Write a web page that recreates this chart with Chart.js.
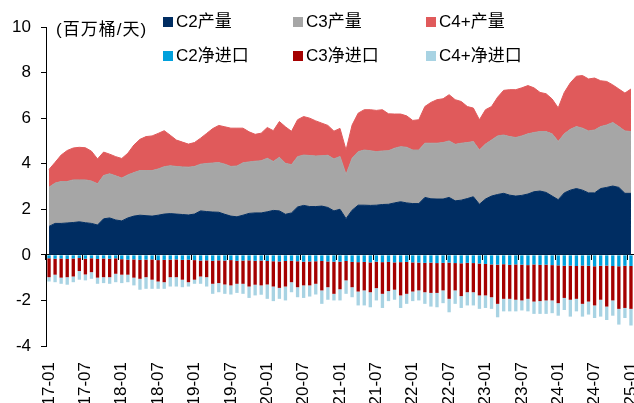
<!DOCTYPE html>
<html>
<head>
<meta charset="utf-8">
<script src="https://cdn.jsdelivr.net/npm/chart.js@4/dist/chart.umd.min.js"></script>
<style>
  html, body { margin: 0; padding: 0; background: #fff; }
  #wrap { position: relative; width: 634px; height: 403px; overflow: hidden; }
  #chart { position: absolute; left: 0; top: 0; }
  .unit, .leg { position: absolute; font-size: 17px; color: #000; white-space: nowrap;
    font-family: "Liberation Sans", Arial, "Noto Sans CJK SC", sans-serif; line-height: 20px; }
  .leg i { position: absolute; left: 0; top: 5px; width: 10px; height: 10px; }
  .leg span { position: absolute; left: 13px; top: 0; }
</style>
</head>
<body>
<div id="wrap">
  <canvas id="chart" width="634" height="403"></canvas>
  <div class="unit" style="left:56px; top:20px; letter-spacing:1px;">(百万桶/天)</div>
  <div id="legend"></div>
</div>
<script>
// Monthly categories 2017-01 .. 2025-01
const months = [];
for (let y = 17; y <= 25; y++) {
  for (let m = 1; m <= 12; m++) {
    if (y === 25 && m > 1) break;
    months.push(y + '-' + String(m).padStart(2, '0'));
  }
}
const tickLabels = months.filter((_, i) => i % 6 === 0);

// Production, million barrels per day
const c2Prod = [1.25,1.38,1.38,1.40,1.42,1.45,1.41,1.38,1.31,1.58,1.62,1.53,
  1.49,1.62,1.70,1.74,1.72,1.70,1.74,1.79,1.81,1.79,1.77,1.75,
  1.79,1.93,1.90,1.88,1.87,1.78,1.70,1.67,1.74,1.82,1.84,1.84,
  1.89,1.95,1.93,1.78,1.84,2.10,2.17,2.12,2.12,2.14,2.08,1.93,
  2.00,1.59,1.96,2.18,2.18,2.17,2.18,2.21,2.22,2.28,2.33,2.28,
  2.25,2.25,2.52,2.46,2.45,2.45,2.52,2.37,2.40,2.47,2.55,2.22,
  2.45,2.58,2.65,2.70,2.62,2.58,2.61,2.67,2.77,2.80,2.74,2.58,
  2.42,2.72,2.84,2.91,2.84,2.72,2.72,2.91,2.96,3.02,2.96,2.70,
  2.70];
const c3Prod = [1.72,1.77,1.84,1.82,1.87,1.84,1.88,1.86,1.81,1.90,1.94,1.94,
  1.88,1.89,1.91,1.96,1.98,2.00,2.03,2.08,2.10,2.09,2.09,2.10,
  2.09,2.05,2.11,2.15,2.18,2.20,2.18,2.23,2.30,2.26,2.27,2.29,
  2.35,2.15,2.35,2.24,2.12,2.21,2.21,2.24,2.22,2.21,2.29,2.28,
  2.32,1.94,2.28,2.35,2.42,2.40,2.35,2.35,2.35,2.40,2.42,2.44,
  2.35,2.35,2.38,2.44,2.45,2.48,2.48,2.48,2.50,2.46,2.42,2.38,
  2.41,2.46,2.57,2.56,2.57,2.57,2.61,2.64,2.60,2.61,2.67,2.73,
  2.56,2.59,2.67,2.72,2.72,2.72,2.76,2.72,2.74,2.79,2.67,2.74,
  2.71];
const c4Prod = [0.78,0.91,1.16,1.36,1.40,1.43,1.41,1.31,1.09,1.03,0.86,0.84,
  0.86,0.95,1.21,1.37,1.49,1.52,1.56,1.58,1.34,1.16,1.09,1.01,
  1.05,1.14,1.32,1.51,1.63,1.64,1.68,1.66,1.52,1.32,1.18,1.21,
  1.35,1.35,1.57,1.60,1.46,1.62,1.69,1.64,1.54,1.43,1.31,1.22,
  1.23,1.07,1.46,1.69,1.77,1.80,1.81,1.81,1.62,1.50,1.43,1.38,
  1.30,1.33,1.61,1.79,1.91,1.92,2.03,1.96,1.83,1.58,1.47,1.33,
  1.51,1.47,1.70,1.96,2.06,2.10,2.11,2.12,1.96,1.72,1.66,1.53,
  1.47,1.82,2.04,2.21,2.31,2.28,2.28,2.01,1.91,1.65,1.65,1.66,
  1.87];

// Net imports (negative = net exports), million barrels per day
const c2Imp = [-0.15,-0.17,-0.16,-0.18,-0.16,-0.14,-0.17,-0.15,-0.18,-0.16,-0.17,-0.15,
  -0.19,-0.21,-0.20,-0.22,-0.21,-0.20,-0.23,-0.22,-0.21,-0.20,-0.22,-0.21,
  -0.23,-0.25,-0.24,-0.26,-0.24,-0.25,-0.23,-0.26,-0.25,-0.24,-0.26,-0.25,
  -0.27,-0.28,-0.29,-0.27,-0.26,-0.28,-0.30,-0.29,-0.28,-0.27,-0.29,-0.30,
  -0.30,-0.27,-0.31,-0.32,-0.31,-0.33,-0.30,-0.32,-0.31,-0.33,-0.32,-0.31,
  -0.33,-0.34,-0.35,-0.34,-0.36,-0.35,-0.34,-0.36,-0.37,-0.35,-0.36,-0.38,
  -0.40,-0.42,-0.43,-0.41,-0.44,-0.42,-0.43,-0.45,-0.42,-0.44,-0.43,-0.45,
  -0.46,-0.48,-0.47,-0.49,-0.47,-0.48,-0.50,-0.48,-0.47,-0.49,-0.50,-0.48,
  -0.49];
const c3Imp = [-0.83,-0.70,-0.84,-0.80,-0.79,-0.57,-0.69,-0.61,-0.82,-0.82,-0.81,-0.68,
  -0.68,-0.66,-0.80,-0.83,-0.77,-0.89,-0.94,-0.98,-0.77,-0.78,-0.87,-0.99,
  -0.86,-0.70,-0.74,-1.01,-1.00,-1.05,-1.11,-1.01,-1.02,-1.15,-1.05,-1.09,
  -1.03,-1.11,-1.16,-1.12,-0.94,-1.14,-1.04,-1.05,-0.99,-1.29,-1.13,-1.41,
  -1.21,-0.85,-1.11,-1.29,-1.25,-1.31,-1.16,-1.39,-1.28,-1.20,-1.46,-1.40,
  -1.28,-1.22,-1.29,-1.33,-1.31,-1.21,-1.59,-1.20,-1.44,-1.29,-1.28,-1.40,
  -1.38,-1.44,-1.72,-1.52,-1.49,-1.55,-1.57,-1.48,-1.63,-1.59,-1.57,-1.55,
  -1.66,-1.41,-1.50,-1.44,-1.68,-1.57,-1.72,-1.49,-1.80,-1.51,-1.87,-1.85,
  -1.88];
const c4Imp = [-0.19,-0.33,-0.27,-0.33,-0.25,-0.38,-0.26,-0.29,-0.27,-0.26,-0.29,-0.37,
  -0.37,-0.33,-0.34,-0.48,-0.51,-0.40,-0.32,-0.29,-0.41,-0.41,-0.33,-0.19,
  -0.18,-0.32,-0.41,-0.44,-0.40,-0.41,-0.40,-0.40,-0.44,-0.50,-0.47,-0.41,
  -0.63,-0.64,-0.48,-0.61,-0.44,-0.44,-0.55,-0.49,-0.47,-0.59,-0.55,-0.29,
  -0.49,-0.59,-0.44,-0.61,-0.66,-0.66,-0.54,-0.62,-0.44,-0.44,-0.55,-0.44,
  -0.42,-0.44,-0.51,-0.60,-0.63,-0.56,-0.59,-0.59,-0.52,-0.58,-0.58,-0.59,
  -0.55,-0.51,-0.59,-0.55,-0.55,-0.51,-0.44,-0.55,-0.54,-0.56,-0.59,-0.56,
  -0.55,-0.53,-0.74,-0.55,-0.56,-0.57,-0.55,-0.74,-0.59,-0.67,-0.69,-0.44,
  -0.73];

const COLORS = {
  c2Prod: '#002D62', c3Prod: '#A6A6A6', c4Prod: '#E05A5B',
  c2Imp: '#00A0DC', c3Imp: '#A50000', c4Imp: '#A8D3E3'
};

// Legend: three columns, two rows
const legendItems = [
  { text: 'C2产量', color: COLORS.c2Prod, x: 163, y: 12 },
  { text: 'C3产量', color: COLORS.c3Prod, x: 293, y: 12 },
  { text: 'C4+产量', color: COLORS.c4Prod, x: 426, y: 12 },
  { text: 'C2净进口', color: COLORS.c2Imp, x: 163, y: 46 },
  { text: 'C3净进口', color: COLORS.c3Imp, x: 293, y: 46 },
  { text: 'C4+净进口', color: COLORS.c4Imp, x: 426, y: 46 }
];
const legendEl = document.getElementById('legend');
legendItems.forEach(it => {
  const d = document.createElement('div');
  d.className = 'leg';
  d.style.left = it.x + 'px';
  d.style.top = it.y + 'px';
  d.innerHTML = '<i style="background:' + it.color + '"></i><span>' + it.text + '</span>';
  legendEl.appendChild(d);
});

const area = (label, data, color, fill) => ({
  type: 'line', label, data, stack: 'prod', fill,
  backgroundColor: color, borderColor: color, borderWidth: 1,
  pointRadius: 0, tension: 0, order: 2
});
const bar = (label, data, color) => ({
  type: 'bar', label, data, stack: 'imp',
  backgroundColor: color, borderWidth: 0,
  barPercentage: 0.55, categoryPercentage: 1.0, order: 1
});

const FONT = { family: '"Liberation Sans", Arial, sans-serif', size: 17 };

new Chart(document.getElementById('chart'), {
  type: 'bar',
  data: {
    labels: months,
    datasets: [
      area('C2产量', c2Prod, COLORS.c2Prod, 'origin'),
      area('C3产量', c3Prod, COLORS.c3Prod, '-1'),
      area('C4+产量', c4Prod, COLORS.c4Prod, '-1'),
      bar('C2净进口', c2Imp, COLORS.c2Imp),
      bar('C3净进口', c3Imp, COLORS.c3Imp),
      bar('C4+净进口', c4Imp, COLORS.c4Imp)
    ]
  },
  options: {
    responsive: false,
    animation: false,
    layout: { padding: { top: 27, right: 0, left: 0, bottom: 0 } },
    plugins: { legend: { display: false }, tooltip: { enabled: false } },
    scales: {
      x: {
        type: 'category',
        position: { y: 0 },
        offset: true,
        ticks: { display: false, autoSkip: false },
        grid: {
          offset: true, drawOnChartArea: false, drawTicks: true, tickLength: 5,
          lineWidth: 1,
          tickColor: (c) => (c.index % 6 === 0 ? '#000' : 'rgba(0,0,0,0)'),
          color: 'rgba(0,0,0,0)'
        },
        border: { display: true, color: '#000', width: 1 },
        afterFit: (s) => { s.height = 0; s.paddingLeft = 0; s.paddingRight = 0; }
      },
      x2: {
        type: 'category',
        labels: months,
        position: 'bottom',
        offset: true,
        grid: { display: false },
        border: { display: false },
        ticks: {
          autoSkip: false, maxRotation: 90, minRotation: 90, padding: 8,
          color: '#000', font: FONT,
          callback: (v, i) => (i % 6 === 0 ? tickLabels[i / 6] : '')
        },
        afterFit: (s) => { s.height = 57; s.paddingLeft = 0; s.paddingRight = 0; }
      },
      y: {
        stacked: true,
        min: -4, max: 10,
        ticks: { stepSize: 2, color: '#000', font: FONT, padding: 10 },
        grid: {
          drawOnChartArea: false, drawTicks: true, tickLength: 5,
          color: 'rgba(0,0,0,0)', tickColor: '#000'
        },
        border: { display: true, color: '#000', width: 1 },
        afterFit: (s) => { s.width = 46; }
      }
    }
  }
});
</script>
</body>
</html>
